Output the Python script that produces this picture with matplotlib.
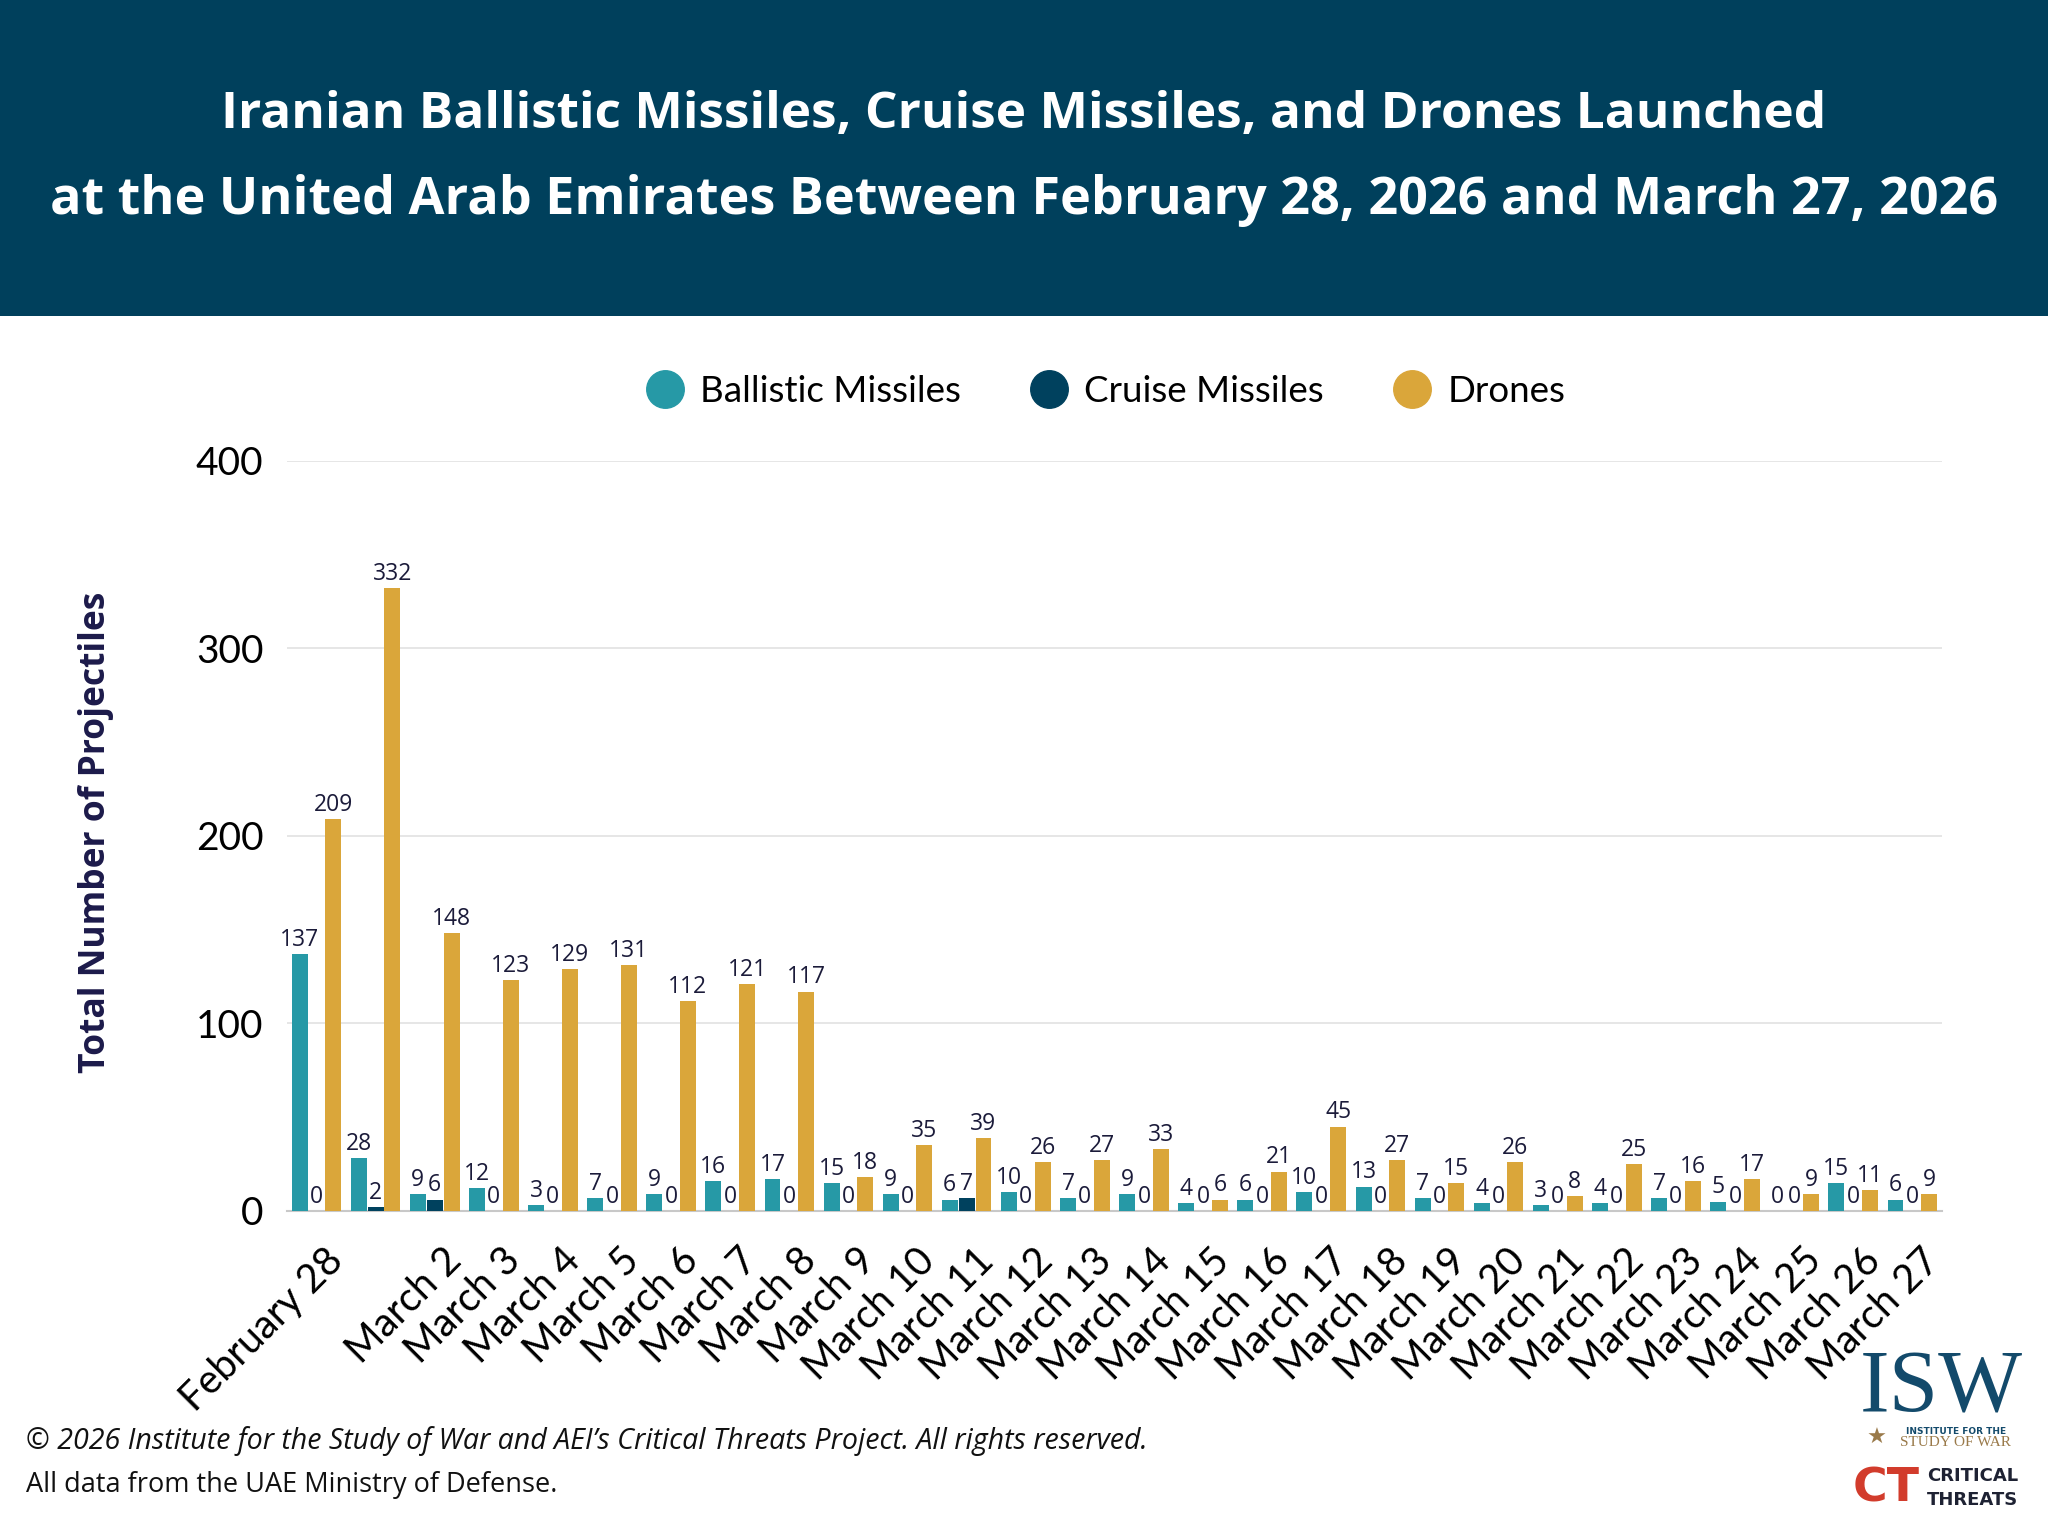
import matplotlib
matplotlib.use("Agg")
import matplotlib.pyplot as plt
import matplotlib.transforms as mtransforms
from matplotlib.lines import Line2D
from matplotlib.patches import Rectangle
import numpy as np

# Data
dates = ["February 28", "", "March 2", "March 3", "March 4", "March 5", "March 6",
         "March 7", "March 8", "March 9", "March 10", "March 11", "March 12",
         "March 13", "March 14", "March 15", "March 16", "March 17", "March 18",
         "March 19", "March 20", "March 21", "March 22", "March 23", "March 24",
         "March 25", "March 26", "March 27"]
ballistic = [137, 28, 9, 12, 3, 7, 9, 16, 17, 15, 9, 6, 10, 7, 9, 4, 6, 10, 13, 7,
             4, 3, 4, 7, 5, 0, 15, 6]
cruise = [0, 2, 6, 0, 0, 0, 0, 0, 0, 0, 0, 7, 0, 0, 0, 0, 0, 0, 0, 0,
          0, 0, 0, 0, 0, 0, 0, 0]
drones = [209, 332, 148, 123, 129, 131, 112, 121, 117, 18, 35, 39, 26, 27, 33, 6,
          21, 45, 27, 15, 26, 8, 25, 16, 17, 9, 11, 9]
series_names = ["Ballistic Missiles", "Cruise Missiles", "Drones"]
yticks = [0, 100, 200, 300, 400]

# Colours
teal = "#2699A6"
navy = "#00415E"
gold = "#DAA63A"
header_bg = "#00405C"
label_col = "#1B1B3A"

fig = plt.figure(figsize=(20.48, 15.36), dpi=100)
fig.patch.set_facecolor("white")

# Header band
fig.patches.append(Rectangle((0, 0.7943), 1, 0.2057, transform=fig.transFigure,
                             facecolor=header_bg, edgecolor="none", zorder=0))
fig.text(0.5, 0.9250, "Iranian Ballistic Missiles, Cruise Missiles, and Drones Launched",
         ha="center", va="center", color="white", fontsize=37, fontweight="bold",
         family="Open Sans")
fig.text(0.5, 0.8697, "at the United Arab Emirates Between February 28, 2026 and March 27, 2026",
         ha="center", va="center", color="white", fontsize=37.5, fontweight="bold",
         family="Open Sans")

ax = fig.add_axes([0.1401, 0.2116, 0.8081, 0.4883])
x = np.arange(len(dates))
w = 0.27
step = 0.285
for vals, off, col in zip((ballistic, cruise, drones), (-step, 0, step), (teal, navy, gold)):
    bars = ax.bar(x + off, vals, width=w, color=col, zorder=3)
    for b, v in zip(bars, vals):
        ax.text(b.get_x() + b.get_width() / 2, v + 1.2, str(v), ha="center", va="bottom",
                fontsize=16.5, color=label_col, family="Open Sans", zorder=4)

ax.set_xlim(-0.5, len(dates) - 0.5)
ax.set_ylim(0, 400)
ax.set_yticks(yticks)
ax.set_yticklabels([str(t) for t in yticks], fontsize=28, family="Lato")
ax.grid(axis="y", color="#E2E2E2", linewidth=1.2, zorder=0)
ax.set_axisbelow(True)
for s in ("top", "right", "left"):
    ax.spines[s].set_visible(False)
ax.spines["bottom"].set_color("#C8C8C8")
ax.spines["bottom"].set_linewidth(1.5)
ax.tick_params(axis="y", length=0, pad=17)
ax.tick_params(axis="x", length=0, pad=22)

ax.set_xticks(x)
ax.set_xticklabels(dates, rotation=45, ha="right", va="top", rotation_mode="anchor",
                   fontsize=28.5, family="Lato")
offset = mtransforms.ScaledTranslation(8 / 100, 0, fig.dpi_scale_trans)
for lab in ax.get_xticklabels():
    lab.set_transform(lab.get_transform() + offset)

fig.text(0.047, 0.4583, "Total Number of Projectiles", rotation=90, ha="center",
         va="center", fontsize=25.5, fontweight="bold", color="#1C1A4A", family="Open Sans")

# Legend
handles = [Line2D([], [], marker="o", linestyle="none", markersize=27,
                  markerfacecolor=c, markeredgecolor=c) for c in (teal, navy, gold)]
fig.legend(handles, series_names, loc="center", bbox_to_anchor=(0.54, 0.745), ncol=3,
           frameon=False, prop={"family": "Lato", "size": 26.5}, handlelength=1.0,
           handletextpad=0.45, columnspacing=1.9)

# Footer
fig.text(0.0127, 1 - 1441 / 1536,
         "\u00a9 2026 Institute for the Study of War and AEI\u2019s Critical Threats Project. All rights reserved.",
         ha="left", va="center", fontsize=20.6, style="italic", color="#111111", family="Open Sans")
fig.text(0.0127, 1 - 1485 / 1536, "All data from the UAE Ministry of Defense.",
         ha="left", va="center", fontsize=19.5, color="#111111", family="Open Sans")

# Logos (text approximations)
fig.text(0.948, 1 - 1390 / 1536, "ISW", ha="center", va="center", fontsize=64,
         family="Liberation Serif", color="#134A6B")
fig.text(0.955, 1 - 1431 / 1536, "INSTITUTE FOR THE", ha="center", va="center",
         fontsize=6.5, fontweight="bold", color="#134A6B", family="DejaVu Sans")
fig.text(0.955, 1 - 1443 / 1536, "STUDY OF WAR", ha="center", va="center",
         fontsize=11, family="Liberation Serif", color="#9A7A4A")
fig.text(0.9165, 1 - 1438 / 1536, "\u2605", ha="center", va="center", fontsize=16,
         color="#9A7A4A", family="DejaVu Sans")
fig.text(0.921, 1 - 1489 / 1536, "CT", ha="center", va="center", fontsize=34,
         fontweight="bold", color="#D23C2C", family="DejaVu Sans")
fig.text(0.941, 1 - 1476 / 1536, "CRITICAL", ha="left", va="center", fontsize=13,
         fontweight="bold", color="#1E2233", family="DejaVu Sans")
fig.text(0.941, 1 - 1500 / 1536, "THREATS", ha="left", va="center", fontsize=13,
         fontweight="bold", color="#1E2233", family="DejaVu Sans")

fig.savefig("out.png", dpi=100, facecolor="white")
